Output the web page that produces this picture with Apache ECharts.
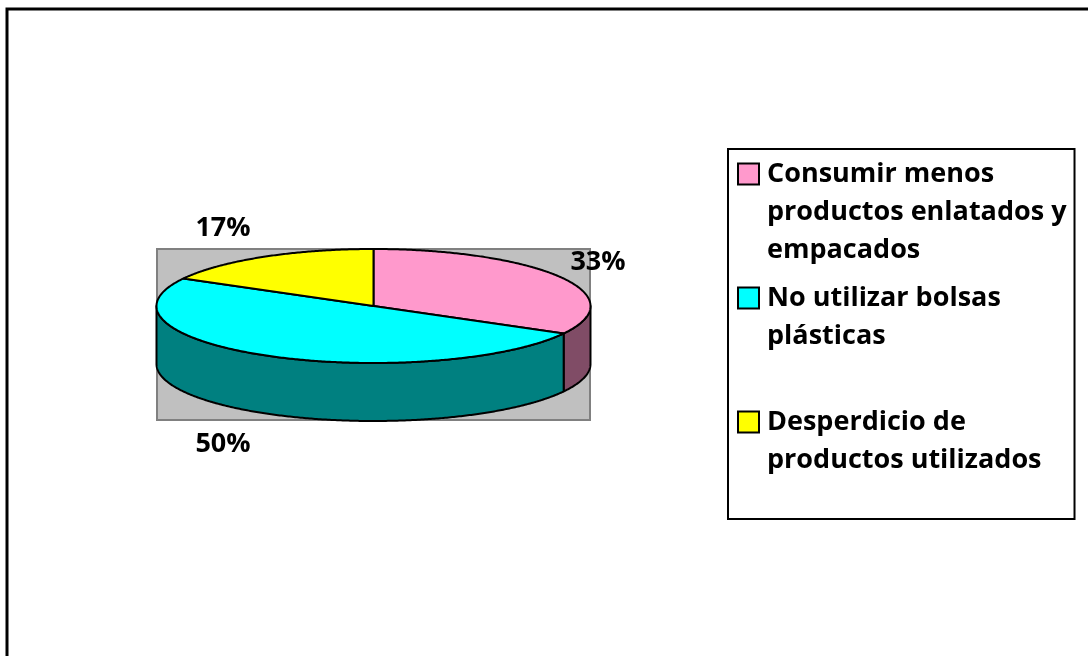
<!DOCTYPE html>
<html><head><meta charset="utf-8">
<script src="https://cdn.jsdelivr.net/npm/echarts@6/dist/echarts.min.js"></script>
<style>html,body{margin:0;padding:0;background:#fff}#c{width:1088px;height:656px}</style>
</head><body><div id="c"></div>
<script>
// ---- data ----
const categories = ['Consumir menos productos enlatados y empacados', 'No utilizar bolsas plásticas', 'Desperdicio de productos utilizados'];
const values = [33, 50, 17];

// ---- styles / layout ----
const topColors = ['#ff99cc', '#00ffff', '#ffff00'];
const sideColors = ['#804c66', '#008080', '#808000'];
const FONT = '"Open Sans"';
const FSIZE = 27;
const LH = 38;
const PIE = { cx: 373.5, cy: 306, rx: 217, ry: 57, depth: 58 };
const LABEL_POS = [[598, 262], [223, 444], [223, 228]];
const LEGEND_WRAP = 315;

const total = values.reduce((a, b) => a + b, 0);
function angleAt(cum) { return Math.PI / 2 - 2 * Math.PI * cum / total; }
function pt(th, dy) { return [PIE.cx + PIE.rx * Math.cos(th), PIE.cy - PIE.ry * Math.sin(th) + (dy || 0)]; }
function arc(a0, a1, dy) {
  const n = Math.max(2, Math.ceil(Math.abs(a0 - a1) / (Math.PI / 360)));
  const pts = [];
  for (let k = 0; k <= n; k++) pts.push(pt(a0 + (a1 - a0) * k / n, dy));
  return pts;
}

function makeRender(i) {
  return function (params, api) {
    const v = api.value(0);
    let cum = 0;
    for (let j = 0; j < i; j++) cum += values[j];
    const a0 = angleAt(cum), a1 = angleAt(cum + v);
    const children = [];
    for (const m of [-1, 0, 1]) {
      const lo = Math.max(a1, -Math.PI + 2 * Math.PI * m);
      const hi = Math.min(a0, 2 * Math.PI * m);
      if (hi - lo > 1e-6) {
        const pts = arc(hi, lo, 0).concat(arc(lo, hi, PIE.depth));
        children.push({
          type: 'polygon', shape: { points: pts },
          style: { fill: sideColors[i], stroke: '#000', lineWidth: 2, lineJoin: 'round' }
        });
      }
    }
    const topPts = [[PIE.cx, PIE.cy]].concat(arc(a0, a1, 0));
    children.push({
      type: 'polygon', shape: { points: topPts },
      style: { fill: topColors[i], stroke: '#000', lineWidth: 2, lineJoin: 'round' }
    });
    children.push({
      type: 'text', x: LABEL_POS[i][0], y: LABEL_POS[i][1],
      style: {
        text: Math.round(v / total * 100) + '%',
        fontFamily: FONT, fontWeight: 'bold', fontSize: FSIZE,
        fill: '#000', align: 'center', verticalAlign: 'middle'
      }
    });
    return { type: 'group', children: children };
  };
}

// simple word wrap using canvas measurement
const mctx = document.createElement('canvas').getContext('2d');
mctx.font = 'bold ' + FSIZE + 'px ' + FONT;
function wrap(text) {
  const words = text.split(' ');
  const lines = [];
  let cur = '';
  for (const w of words) {
    const t = cur ? cur + ' ' + w : w;
    if (cur && mctx.measureText(t).width > LEGEND_WRAP) { lines.push(cur); cur = w; }
    else cur = t;
  }
  if (cur) lines.push(cur);
  return lines;
}

const rich = {
  t: { fontFamily: FONT, fontWeight: 'bold', fontSize: FSIZE, lineHeight: LH, color: '#000' },
  g: { width: 9, lineHeight: LH },
  sp: { width: 28, lineHeight: LH }
};
topColors.forEach((c, i) => {
  rich['b' + i] = { width: 19, height: 19, backgroundColor: c, borderColor: '#000', borderWidth: 2, lineHeight: LH };
});

const series = categories.map((name, i) => ({
  type: 'custom',
  name: name,
  coordinateSystem: 'none',
  silent: true,
  data: [values[i]],
  itemStyle: { color: topColors[i] },
  renderItem: makeRender(i)
}));

const chart = echarts.init(document.getElementById('c'), null, { renderer: 'canvas' });
chart.setOption({
  animation: false,
  backgroundColor: '#fff',
  graphic: [
    { type: 'rect', z: 0, shape: { x: 7, y: 9, width: 1300, height: 900 }, style: { fill: 'none', stroke: '#000', lineWidth: 3 } },
    { type: 'rect', z: 0, shape: { x: 157, y: 249, width: 433, height: 171 }, style: { fill: '#c0c0c0', stroke: '#808080', lineWidth: 2 } }
  ],
  legend: {
    orient: 'vertical', left: 728, top: 149,
    padding: [6, 8, 2, 6],
    borderColor: '#000', borderWidth: 2, backgroundColor: '#fff',
    itemWidth: 0, itemHeight: 0, itemGap: 10,
    selectedMode: false,
    data: categories,
    formatter: function (name) {
      const i = categories.indexOf(name);
      const lines = wrap(name);
      while (lines.length < 3) lines.push('');
      return lines.map((l, k) => (k === 0 ? '{b' + i + '|}{g|}' : '{sp|}') + (l ? '{t|' + l + '}' : '')).join('\n');
    },
    textStyle: { fontFamily: FONT, fontWeight: 'bold', fontSize: FSIZE, lineHeight: LH, color: '#000', rich: rich }
  },
  series: series
});
</script>
</body></html>
